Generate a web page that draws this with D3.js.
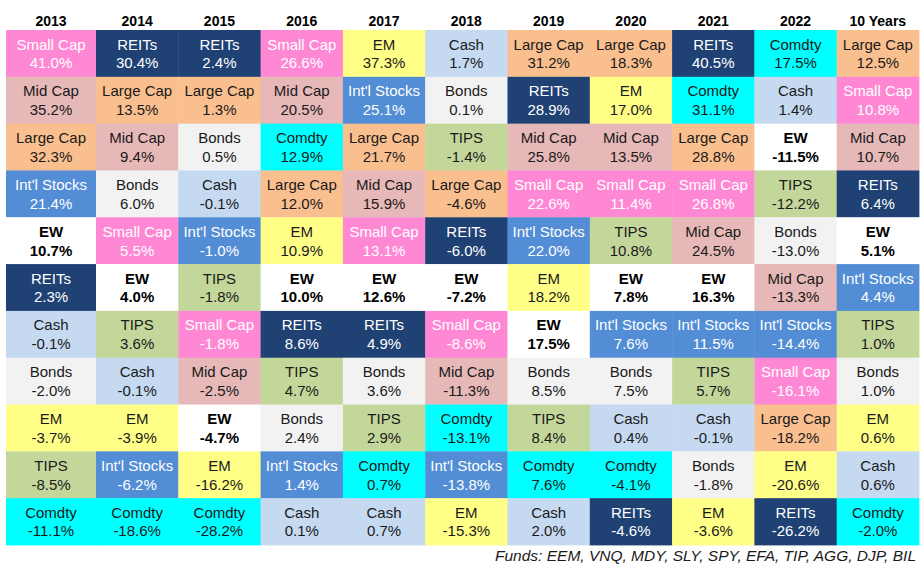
<!DOCTYPE html>
<html>
<head>
<meta charset="utf-8">
<script src="https://cdn.jsdelivr.net/npm/d3@7"></script>
<style>
  html, body { margin: 0; padding: 0; background: #ffffff; }
  svg { display: block; }
</style>
</head>
<body>
<svg id="chart" width="924" height="569"></svg>
<script>
// ---------- DATA ----------
const years = ["2013", "2014", "2015", "2016", "2017", "2018", "2019", "2020", "2021", "2022", "10 Years"];

const assets = ["Small Cap", "REITs", "Mid Cap", "Large Cap", "Int'l Stocks", "EW", "Cash", "Bonds", "EM", "TIPS", "Comdty"];

// ranked labels for each column (top to bottom)
const rank2013 = ["Small Cap", "Mid Cap", "Large Cap", "Int'l Stocks", "EW", "REITs", "Cash", "Bonds", "EM", "TIPS", "Comdty"];
const ret2013  = [41.0, 35.2, 32.3, 21.4, 10.7, 2.3, -0.1, -2.0, -3.7, -8.5, -11.1];
const rank2014 = ["REITs", "Large Cap", "Mid Cap", "Bonds", "Small Cap", "EW", "TIPS", "Cash", "EM", "Int'l Stocks", "Comdty"];
const ret2014  = [30.4, 13.5, 9.4, 6.0, 5.5, 4.0, 3.6, -0.1, -3.9, -6.2, -18.6];
const rank2015 = ["REITs", "Large Cap", "Bonds", "Cash", "Int'l Stocks", "TIPS", "Small Cap", "Mid Cap", "EW", "EM", "Comdty"];
const ret2015  = [2.4, 1.3, 0.5, -0.1, -1.0, -1.8, -1.8, -2.5, -4.7, -16.2, -28.2];
const rank2016 = ["Small Cap", "Mid Cap", "Comdty", "Large Cap", "EM", "EW", "REITs", "TIPS", "Bonds", "Int'l Stocks", "Cash"];
const ret2016  = [26.6, 20.5, 12.9, 12.0, 10.9, 10.0, 8.6, 4.7, 2.4, 1.4, 0.1];
const rank2017 = ["EM", "Int'l Stocks", "Large Cap", "Mid Cap", "Small Cap", "EW", "REITs", "Bonds", "TIPS", "Comdty", "Cash"];
const ret2017  = [37.3, 25.1, 21.7, 15.9, 13.1, 12.6, 4.9, 3.6, 2.9, 0.7, 0.7];
const rank2018 = ["Cash", "Bonds", "TIPS", "Large Cap", "REITs", "EW", "Small Cap", "Mid Cap", "Comdty", "Int'l Stocks", "EM"];
const ret2018  = [1.7, 0.1, -1.4, -4.6, -6.0, -7.2, -8.6, -11.3, -13.1, -13.8, -15.3];
const rank2019 = ["Large Cap", "REITs", "Mid Cap", "Small Cap", "Int'l Stocks", "EM", "EW", "Bonds", "TIPS", "Comdty", "Cash"];
const ret2019  = [31.2, 28.9, 25.8, 22.6, 22.0, 18.2, 17.5, 8.5, 8.4, 7.6, 2.0];
const rank2020 = ["Large Cap", "EM", "Mid Cap", "Small Cap", "TIPS", "EW", "Int'l Stocks", "Bonds", "Cash", "Comdty", "REITs"];
const ret2020  = [18.3, 17.0, 13.5, 11.4, 10.8, 7.8, 7.6, 7.5, 0.4, -4.1, -4.6];
const rank2021 = ["REITs", "Comdty", "Large Cap", "Small Cap", "Mid Cap", "EW", "Int'l Stocks", "TIPS", "Cash", "Bonds", "EM"];
const ret2021  = [40.5, 31.1, 28.8, 26.8, 24.5, 16.3, 11.5, 5.7, -0.1, -1.8, -3.6];
const rank2022 = ["Comdty", "Cash", "EW", "TIPS", "Bonds", "Mid Cap", "Int'l Stocks", "Small Cap", "Large Cap", "EM", "REITs"];
const ret2022  = [17.5, 1.4, -11.5, -12.2, -13.0, -13.3, -14.4, -16.1, -18.2, -20.6, -26.2];
const rank10y  = ["Large Cap", "Small Cap", "Mid Cap", "REITs", "EW", "Int'l Stocks", "TIPS", "Bonds", "EM", "Cash", "Comdty"];
const ret10y   = [12.5, 10.8, 10.7, 6.4, 5.1, 4.4, 1.0, 1.0, 0.6, 0.6, -2.0];

const footnote = "Funds: EEM, VNQ, MDY, SLY, SPY, EFA, TIP, AGG, DJP, BIL";

// ---------- STYLES ----------
const fillColors = ["#FF88D5", "#1F4173", "#E6B8B7", "#FABF8F", "#538DD5", "#FFFFFF", "#C5D9F1", "#F2F2F2", "#FFFF88", "#C4D79B", "#00FFFF"];
const textColors = ["#FFFFFF", "#FFFFFF", "#1A1A1A", "#1A1A1A", "#FFFFFF", "#000000", "#1A1A1A", "#1A1A1A", "#1A1A1A", "#1A1A1A", "#1A1A1A"];

const fill = d3.scaleOrdinal().domain(assets).range(fillColors);
const textFill = d3.scaleOrdinal().domain(assets).range(textColors);

const columns = [
  [rank2013, ret2013], [rank2014, ret2014], [rank2015, ret2015], [rank2016, ret2016],
  [rank2017, ret2017], [rank2018, ret2018], [rank2019, ret2019], [rank2020, ret2020],
  [rank2021, ret2021], [rank2022, ret2022], [rank10y, ret10y]
];

const cells = [];
columns.forEach((c, ci) => {
  c[0].forEach((name, ri) => {
    cells.push({ col: years[ci], row: ri, name: name, value: c[1][ri] });
  });
});

const pct = d3.formatLocale({ decimal: ".", thousands: ",", grouping: [3], currency: ["", ""], minus: "-" }).format(".1f");

// ---------- LAYOUT ----------
const svg = d3.select("#chart");
const font = "'Liberation Sans', Arial, sans-serif";

// first column is wider than the rest
const firstLeft = 6, firstRight = 96, right = 919;
const xRest = d3.scaleBand().domain(years.slice(1)).range([firstRight, right]).paddingInner(0).paddingOuter(0);
const xLeft = y => y === years[0] ? firstLeft : xRest(y);
const xWidth = y => y === years[0] ? (firstRight - firstLeft) : xRest.bandwidth();

const yScale = d3.scaleBand().domain(d3.range(11)).range([30, 545]).padding(0);
const rh = yScale.bandwidth();

// headers
svg.append("g").selectAll("text").data(years).join("text")
  .attr("x", d => xLeft(d) + xWidth(d) / 2)
  .attr("y", 25.5)
  .attr("text-anchor", "middle")
  .attr("font-family", font)
  .attr("font-weight", "bold")
  .attr("font-size", 14)
  .attr("fill", "#000")
  .text(d => d);

// cells
const g = svg.append("g").selectAll("g").data(cells).join("g")
  .attr("transform", d => `translate(${xLeft(d.col)},${yScale(d.row)})`);

g.append("rect")
  .attr("width", d => xWidth(d.col) + 0.4)
  .attr("height", rh + 0.4)
  .attr("fill", d => fill(d.name));

g.append("text")
  .attr("x", d => xWidth(d.col) / 2)
  .attr("y", 19.5)
  .attr("text-anchor", "middle")
  .attr("font-family", font)
  .attr("font-size", 15)
  .attr("font-weight", d => d.name === "EW" ? "bold" : "normal")
  .attr("fill", d => textFill(d.name))
  .text(d => d.name);

g.append("text")
  .attr("x", d => xWidth(d.col) / 2)
  .attr("y", 38.3)
  .attr("text-anchor", "middle")
  .attr("font-family", font)
  .attr("font-size", 15)
  .attr("font-weight", d => d.name === "EW" ? "bold" : "normal")
  .attr("fill", d => textFill(d.name))
  .text(d => pct(d.value) + "%");

// footnote
svg.append("text")
  .attr("x", 916)
  .attr("y", 561)
  .attr("text-anchor", "end")
  .attr("font-family", font)
  .attr("font-style", "italic")
  .attr("font-size", 15.5)
  .attr("fill", "#1A1A1A")
  .text(footnote);
</script>
</body>
</html>
